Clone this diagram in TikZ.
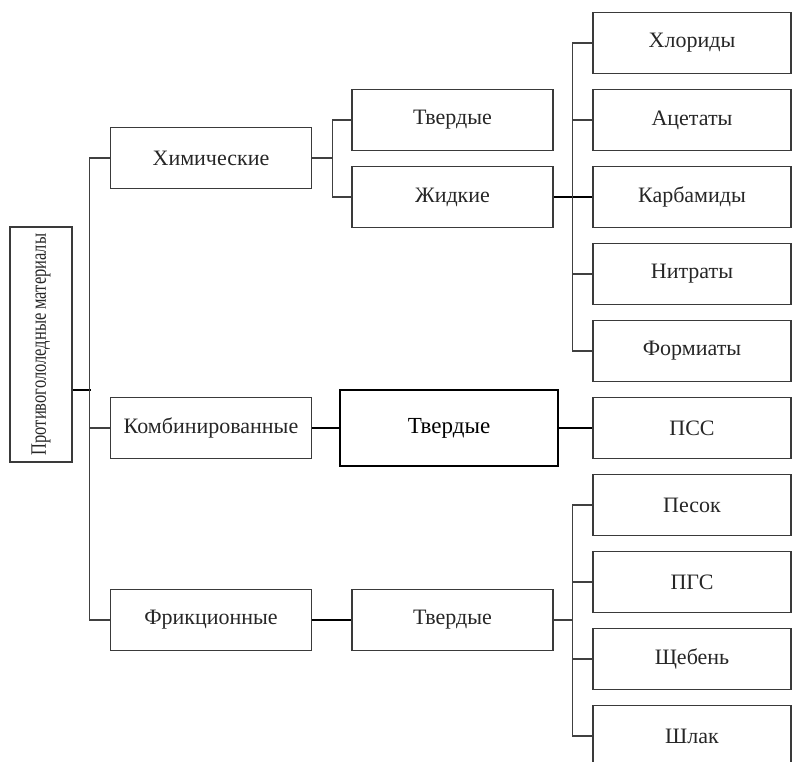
\documentclass[tikz,border=0pt]{standalone}
\usepackage{fontspec}
\setmainfont{Liberation Serif}
\definecolor{boxgray}{HTML}{3A3A3A}
\definecolor{linegray}{HTML}{404040}
\tikzset{
  box/.style={draw=boxgray, line width=1.6pt, minimum width=201pt, minimum height=61pt,
    inner sep=0pt, font=\fontsize{22}{26}\selectfont, text=black!85},
  leaf/.style={box, minimum width=198pt},
  mainbox/.style={draw=black, line width=1.3pt, minimum width=218pt, minimum height=76pt,
    inner sep=0pt, font=\fontsize{23}{27}\selectfont},
  thin line/.style={draw=linegray, line width=1.4pt},
  heavy line/.style={draw=black, line width=2.6pt}
}
\begin{document}
\begin{tikzpicture}[x=1pt,y=-1pt]
\useasboundingbox (0,0) rectangle (792,762);

% root
\node[box, minimum width=62pt, minimum height=235pt] (root) at (41,344.5)
  {\rotatebox{90}{\scalebox{0.75}[1]{Противогололедные материалы}}};

% first level
\node[box] (chem) at (211,158) {Химические};
\node[box] (comb) at (211,428) {Комбинированные};
\node[box] (fric) at (211,620) {Фрикционные};

% second level
\node[box] (tvchem) at (452.5,120) {Твердые};
\node[box] (liquid) at (452.5,197) {Жидкие};
\node[mainbox] (tvcomb) at (449,428) {Твердые};
\node[box] (tvfric) at (452.5,620) {Твердые};

% leaves
\node[leaf] (chlor) at (692,43) {Хлориды};
\node[leaf] (acet) at (692,120) {Ацетаты};
\node[leaf] (carb) at (692,197) {Карбамиды};
\node[leaf] (nitr) at (692,274) {Нитраты};
\node[leaf] (form) at (692,351) {Формиаты};
\node[leaf] (pss) at (692,428) {ПСС};
\node[leaf] (sand) at (692,505) {Песок};
\node[leaf] (pgs) at (692,582) {ПГС};
\node[leaf] (gravel) at (692,659) {Щебень};
\node[leaf] (slag) at (692,736) {Шлак};

% root spine
\coordinate (rj) at (91,390);
\draw[heavy line, line width=2pt] (rj -| root.east) -- (rj);
\draw[thin line] (chem.west) -- ++(-20,0) |- (fric.west);
\draw[thin line] (comb.west) -- ++(-20,0);

% chemical branch
\draw[thin line] (chem.east) -- ++(20,0) coordinate (cj);
\draw[thin line] (tvchem.west) -| (cj) |- (liquid.west);
\draw[heavy line] (liquid.east) -- (carb.west);
\draw[thin line] (chlor.west) -- ++(-20,0) |- (form.west);
\draw[thin line] (acet.west) -- ++(-20,0);
\draw[thin line] (nitr.west) -- ++(-20,0);

% combined branch
\draw[heavy line] (comb.east) -- (tvcomb.west);
\draw[heavy line] (tvcomb.east) -- (pss.west);

% friction branch
\draw[heavy line] (fric.east) -- (tvfric.west);
\draw[thin line] (sand.west) -- ++(-20,0) coordinate (fj) |- (slag.west);
\draw[thin line] (tvfric.east) -- (tvfric.east -| fj);
\draw[thin line] (pgs.west) -- ++(-20,0);
\draw[thin line] (gravel.west) -- ++(-20,0);

\end{tikzpicture}
\end{document}
